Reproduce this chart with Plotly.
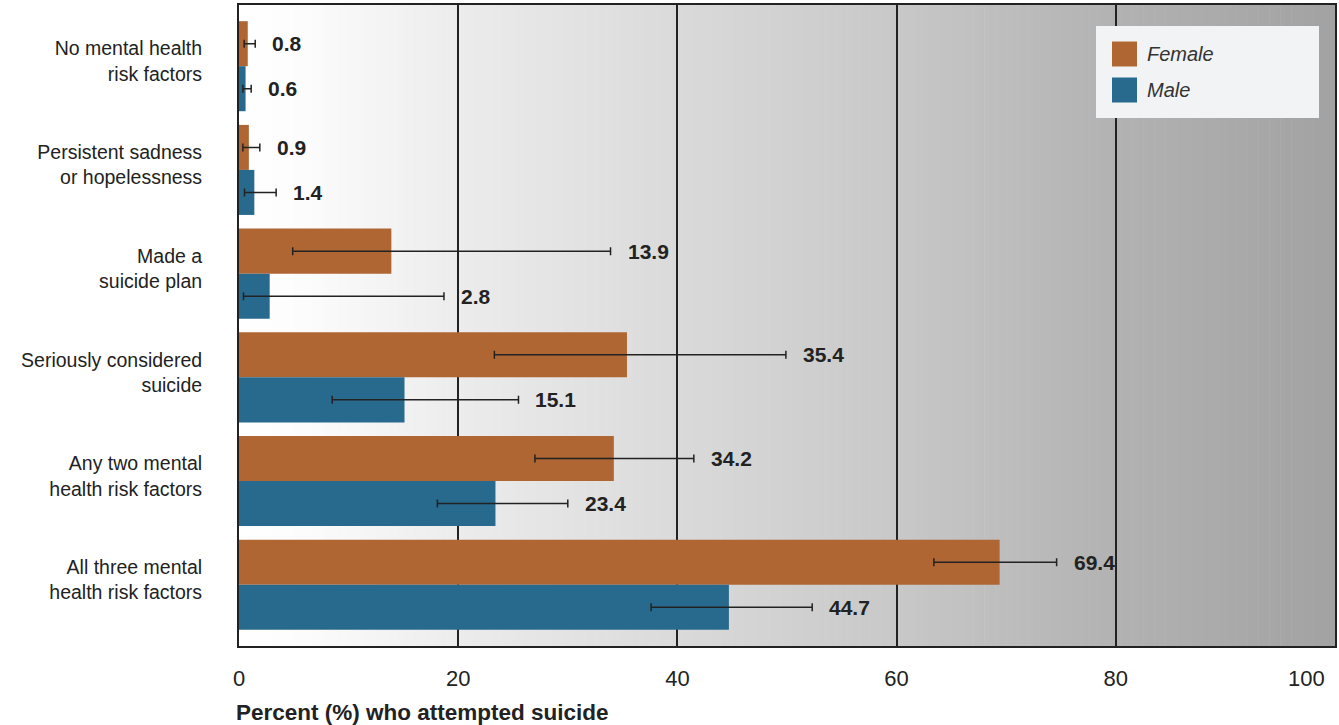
import plotly.graph_objects as go

categories = [
    "No mental health<br>risk factors",
    "Persistent sadness<br>or hopelessness",
    "Made a<br>suicide plan",
    "Seriously considered<br>suicide",
    "Any two mental<br>health risk factors",
    "All three mental<br>health risk factors",
]
female = [0.8, 0.9, 13.9, 35.4, 34.2, 69.4]
female_lo = [0.47, 0.35, 4.9, 23.3, 27.0, 63.4]
female_hi = [1.48, 1.9, 33.9, 49.9, 41.5, 74.6]
male = [0.6, 1.4, 2.8, 15.1, 23.4, 44.7]
male_lo = [0.35, 0.5, 0.41, 8.5, 18.1, 37.6]
male_hi = [1.11, 3.39, 18.7, 25.5, 30.0, 52.3]
x_ticks = [0, 20, 40, 60, 80, 100]

FEMALE_C = "#b06633"
MALE_C = "#286a8e"
DARK = "#222222"
FONT = "Liberation Sans, Arial, sans-serif"
BARGAP = 0.132

fig = go.Figure()
fig.add_trace(go.Bar(
    y=categories, x=female, orientation="h", name="Female",
    marker=dict(color=FEMALE_C, line=dict(width=0)),
    error_x=dict(type="data", symmetric=False,
                 array=[h - v for h, v in zip(female_hi, female)],
                 arrayminus=[v - l for v, l in zip(female, female_lo)],
                 color=DARK, thickness=1.5, width=4),
    showlegend=False,
))
fig.add_trace(go.Bar(
    y=categories, x=male, orientation="h", name="Male",
    marker=dict(color=MALE_C, line=dict(width=0)),
    error_x=dict(type="data", symmetric=False,
                 array=[h - v for h, v in zip(male_hi, male)],
                 arrayminus=[v - l for v, l in zip(male, male_lo)],
                 color=DARK, thickness=1.5, width=4),
    showlegend=False,
))

# gradient background
def gray_at(v):
    pts = [(0, 255), (6, 252), (20, 236), (40, 218), (60, 200), (80, 178), (100, 162)]
    for (x0, g0), (x1, g1) in zip(pts[:-1], pts[1:]):
        if x0 <= v <= x1:
            return g0 + (g1 - g0) * (v - x0) / (x1 - x0)
    return pts[-1][1]

shapes = []
step = 0.5
n = int(100 / step)
for i in range(n):
    a = i * step
    g = int(round(gray_at(a + step / 2)))
    c = f"rgb({g},{g},{g})"
    shapes.append(dict(type="rect", xref="x", yref="paper", x0=a, x1=a + step + 0.05,
                       y0=0, y1=1, fillcolor=c, line=dict(width=0), layer="below"))

# manual legend
W, H = 1339, 725
L, R, T, B = 239, 4, 5, 79
pw, ph = W - L - R, H - T - B
def px(xp):
    return (xp - L) / pw
def py(yp):
    return (H - B - yp) / ph

shapes.append(dict(type="rect", xref="paper", yref="paper", x0=px(1096), x1=px(1319),
                   y0=py(118), y1=py(26), fillcolor="#f2f3f5", line=dict(width=0), layer="above"))
annotations = []
for name, col, yc in [("Female", FEMALE_C, 54), ("Male", MALE_C, 90)]:
    shapes.append(dict(type="rect", xref="paper", yref="paper", x0=px(1112), x1=px(1137),
                       y0=py(yc + 12.5), y1=py(yc - 12.5), fillcolor=col, line=dict(width=0),
                       layer="above"))
    annotations.append(dict(xref="paper", yref="paper", x=px(1145), y=py(yc), text=f"<i>{name}</i>",
                            showarrow=False, xanchor="left", yanchor="middle",
                            font=dict(family=FONT, size=20, color="#333")))

# value labels
half = (1 - BARGAP) / 4
for i, (fv, fh, mv, mh) in enumerate(zip(female, female_hi, male, male_hi)):
    annotations.append(dict(x=fh, y=i - half, xref="x", yref="y", text=f"<b>{fv}</b>",
                            showarrow=False, xanchor="left", yanchor="middle", xshift=15,
                            font=dict(family=FONT, size=21, color=DARK)))
    annotations.append(dict(x=mh, y=i + half, xref="x", yref="y", text=f"<b>{mv}</b>",
                            showarrow=False, xanchor="left", yanchor="middle", xshift=15,
                            font=dict(family=FONT, size=21, color=DARK)))

# last x tick label (pulled inside the page, as in the reference)
annotations.append(dict(x=x_ticks[-1], y=0, xref="x", yref="paper", text=str(x_ticks[-1]),
                        showarrow=False, xanchor="right", yanchor="middle",
                        xshift=-8, yshift=-32,
                        font=dict(family=FONT, size=22, color=DARK)))

annotations.append(dict(xref="paper", yref="paper", x=0, y=0, xshift=-5, yshift=-66,
                        text="<b>Percent (%) who attempted suicide</b>", showarrow=False,
                        xanchor="left", yanchor="middle",
                        font=dict(family=FONT, size=22.5, color=DARK)))

fig.update_layout(
    width=W, height=H,
    margin=dict(l=L, r=R, t=T, b=B, autoexpand=False),
    paper_bgcolor="white", plot_bgcolor="white",
    barmode="group", bargap=BARGAP, bargroupgap=0,
    shapes=shapes, annotations=annotations,
    font=dict(family=FONT, color=DARK),
)
fig.update_xaxes(
    range=[0, 100], tickvals=x_ticks[:-1], ticktext=[str(t) for t in x_ticks[:-1]],
    showgrid=True, gridcolor=DARK, gridwidth=2,
    showline=True, linecolor=DARK, linewidth=2, mirror=True,
    ticks="outside", ticklen=12, tickcolor="rgba(0,0,0,0)",
    tickfont=dict(family=FONT, size=22, color=DARK), zeroline=False,
)
fig.update_yaxes(
    range=[len(categories) - 0.41, -0.59],
    showline=True, linecolor=DARK, linewidth=2, mirror=True,
    ticks="outside", ticklen=31, tickcolor="rgba(0,0,0,0)",
    ticklabelshift=5,
    tickfont=dict(family=FONT, size=19.5, color=DARK), showgrid=False,
)

fig.write_html("out.html", config={"displayModeBar": False},
               post_script="document.body.style.margin='0';document.body.style.overflow='hidden';")
